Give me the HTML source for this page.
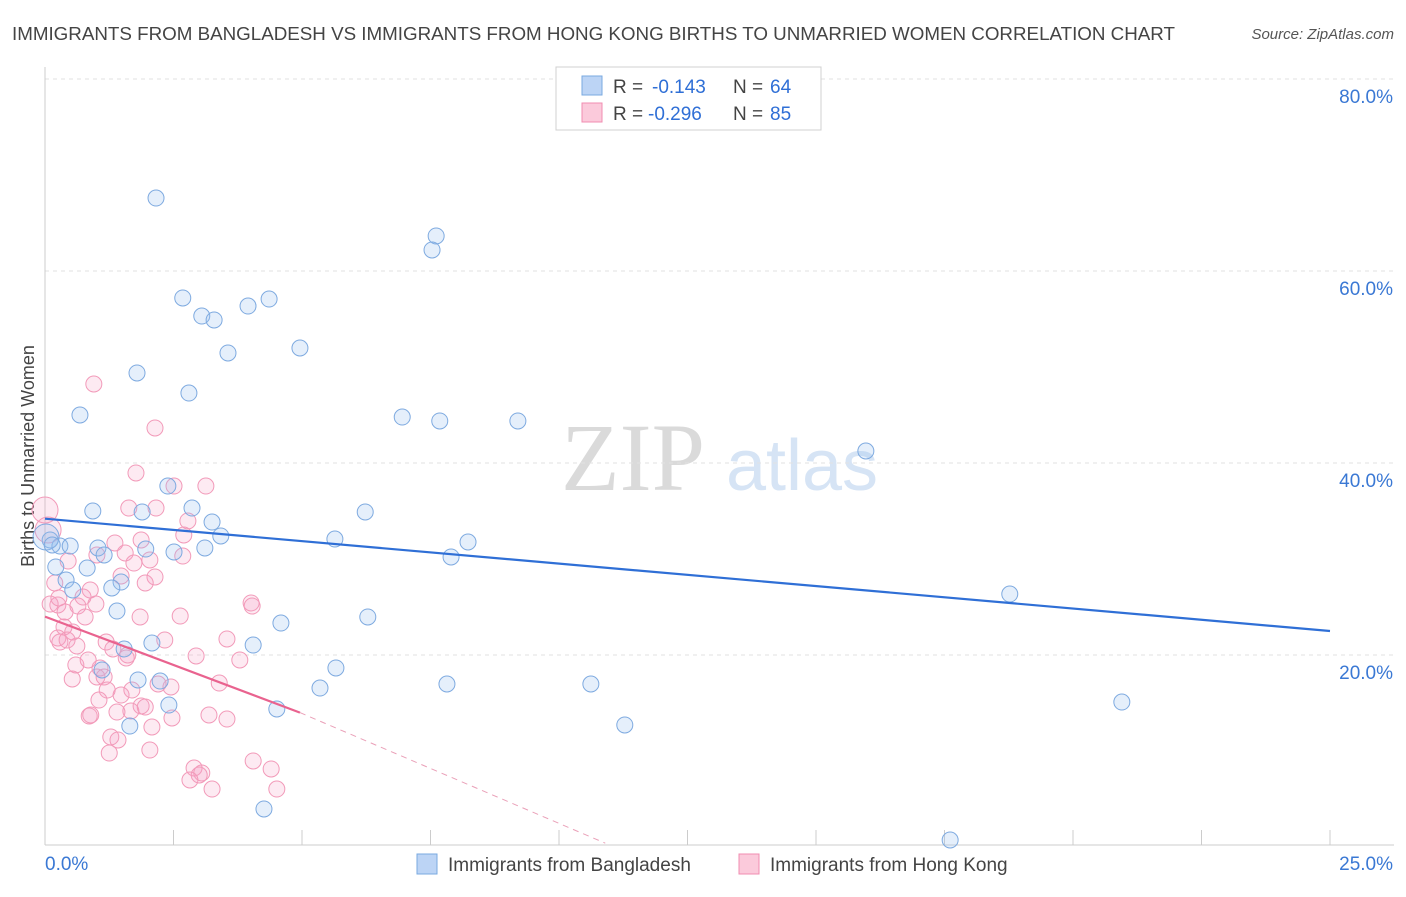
<!DOCTYPE html>
<html><head><meta charset="utf-8"><style>
body{margin:0;background:#fff;font-family:"Liberation Sans",sans-serif;}
</style></head><body>
<svg id="chart" width="1406" height="892" xmlns="http://www.w3.org/2000/svg" font-family="Liberation Sans, sans-serif">
<text x="12" y="40" font-size="18.8" fill="#444" textLength="1163">IMMIGRANTS FROM BANGLADESH VS IMMIGRANTS FROM HONG KONG BIRTHS TO UNMARRIED WOMEN CORRELATION CHART</text>
<text x="1394" y="39" font-size="15" fill="#555" font-style="italic" text-anchor="end">Source: ZipAtlas.com</text>
<text transform="translate(34,456) rotate(-90)" font-size="18" fill="#444" text-anchor="middle">Births to Unmarried Women</text>
<g><text x="633" y="490" font-size="96" fill="#dadada" font-family="Liberation Serif, serif" text-anchor="middle">ZIP</text><text x="802" y="490" font-size="72" fill="#d6e4f5" text-anchor="middle">atlas</text></g>
<g id="grid"></g><g id="marks"></g>
<g>
<rect x="556" y="67" width="265" height="63" fill="#fff" stroke="#d0d0d0"/>
<rect x="582" y="76" width="20" height="19" fill="#bcd4f5" stroke="#7aaae0"/>
<rect x="582" y="103" width="20" height="19" fill="#fbcadb" stroke="#f08cb0"/>
<text x="613" y="93" font-size="19" fill="#444">R =</text><text x="652" y="93" font-size="19" fill="#2f6fd6">-0.143</text>
<text x="733" y="93" font-size="19" fill="#444">N =</text><text x="770" y="93" font-size="19" fill="#2f6fd6">64</text>
<text x="613" y="120" font-size="19" fill="#444">R =</text><text x="648" y="120" font-size="19" fill="#2f6fd6">-0.296</text>
<text x="733" y="120" font-size="19" fill="#444">N =</text><text x="770" y="120" font-size="19" fill="#2f6fd6">85</text>
</g>
<g>
<rect x="417" y="854" width="20" height="20" fill="#bcd4f5" stroke="#7aaae0"/>
<text x="448" y="871" font-size="19" fill="#444">Immigrants from Bangladesh</text>
<rect x="739" y="854" width="20" height="20" fill="#fbcadb" stroke="#f08cb0"/>
<text x="770" y="871" font-size="19" fill="#444">Immigrants from Hong Kong</text>
</g>
</svg>
<script>
const yTicks=[20,40,60,80];
const yTickLabels=["20.0%","40.0%","60.0%","80.0%"];
const xTicks=[0,2.5,5,7.5,10,12.5,15,17.5,20,22.5,25];
const xEndLabels=["0.0%","25.0%"];
const bluePx=[[156,198],[436,236],[432,250],[183,298],[269,299],[248,306],[202,316],[214,320],[228,353],[300,348],[137,373],[80,415],[189,393],[402,417],[440,421],[518,421],[866,451],[168,486],[93,511],[142,512],[192,508],[365,512],[212,522],[221,536],[335,539],[468,542],[451,557],[50,540],[60,546],[70,546],[98,548],[104,555],[146,549],[174,552],[205,548],[87,568],[56,567],[66,580],[121,582],[73,590],[112,588],[117,611],[281,623],[368,617],[152,643],[253,645],[124,649],[102,670],[336,668],[138,680],[160,681],[447,684],[591,684],[320,688],[169,705],[277,709],[1122,702],[130,726],[625,725],[1010,594],[264,809],[950,840],[46,537],[52,545]];
const pinkPx=[[94,384],[155,428],[136,473],[174,486],[206,486],[129,508],[156,508],[188,521],[184,535],[141,540],[115,543],[125,553],[97,555],[134,563],[183,556],[68,561],[45,510],[48,530],[55,583],[90,590],[155,577],[145,583],[121,576],[50,604],[58,605],[65,612],[78,606],[96,604],[85,617],[64,627],[73,632],[58,638],[60,642],[67,640],[106,642],[77,646],[113,649],[128,655],[196,656],[227,639],[251,603],[252,606],[180,616],[76,665],[100,668],[72,679],[97,677],[104,677],[126,658],[219,683],[171,687],[158,684],[121,695],[107,690],[141,706],[145,707],[131,711],[117,712],[89,716],[91,715],[172,718],[209,715],[227,719],[152,727],[111,737],[118,740],[150,750],[109,753],[194,768],[202,773],[199,775],[253,761],[271,769],[212,789],[277,789],[59,598],[83,597],[140,617],[150,560],[165,640],[99,700],[132,690],[190,780],[240,660],[88,660]];
const blueX=bluePx.map(p=>+((p[0]-45)/1285*25).toFixed(2));
const blueY=bluePx.map(p=>+((847-p[1])/192*20).toFixed(2));
const pinkX=pinkPx.map(p=>+((p[0]-45)/1285*25).toFixed(2));
const pinkY=pinkPx.map(p=>+((847-p[1])/192*20).toFixed(2));
const blueLine=[[0,34.2],[25,22.5]];
const pinkLine=[[0,24.0],[4.96,14.0]];
const pinkDash=[[4.96,14.0],[10.9,0.4]];
const X=v=>45+v/25*1285, Y=v=>847-v/20*192;
const NS="http://www.w3.org/2000/svg";
const g=document.getElementById('grid'),m=document.getElementById('marks');
function el(t,a,p){const e=document.createElementNS(NS,t);for(const k in a)e.setAttribute(k,a[k]);p.appendChild(e);return e;}
yTicks.forEach((t,i)=>{
 const l=el('line',{x1:45,x2:1394,y1:Y(t),y2:Y(t),stroke:'#e2e2e2','stroke-dasharray':'4,4'},g);
 
 
 const tx=el('text',{x:1393,y:Y(t)+24,'font-size':19,fill:'#3a78d4','text-anchor':'end'},g);tx.textContent=yTickLabels[i];
 
 
});
const ax=el('line',{x1:45,x2:1394,y1:845,y2:845,stroke:'#ccc'},g);


const ay=el('line',{x1:45,x2:45,y1:67,y2:845,stroke:'#ccc'},g);


xTicks.forEach(t=>{const l=el('line',{x1:X(t),x2:X(t),y1:830,y2:845,stroke:'#ccc'},g);
 
 });
[[0,'start'],[25,'end']].forEach((v,i)=>{const tx=el('text',{x:i?1393:45,y:870,'font-size':19,fill:'#3a78d4','text-anchor':v[1]},g);tx.textContent=xEndLabels[i];
 
 });
function pts(xs,ys,fill,stroke,name){xs.forEach((x,i)=>{const big=(x<0.2&&ys[i]>32);
 const c=el('circle',{cx:X(x),cy:Y(ys[i]),r:big?13:8,fill:fill,stroke:stroke,'stroke-width':1},m);
 
 });}
pts(pinkX,pinkY,'rgba(245,160,195,0.22)','#f29ab9','hong-kong-point');
pts(blueX,blueY,'rgba(150,190,240,0.25)','#7eaae0','bangladesh-point');
function ln(d,c,w,dash,name){const l=el('line',{x1:X(d[0][0]),y1:Y(d[0][1]),x2:X(d[1][0]),y2:Y(d[1][1]),stroke:c,'stroke-width':w},m);if(dash)l.setAttribute('stroke-dasharray',dash);
 
 }
ln(blueLine,'#2f6fd6',2.2,null,'bangladesh-trend-line');
ln(pinkLine,'#e9638f',2.2,null,'hong-kong-trend-line');
ln(pinkDash,'#eaa0b8',1,'6,5','hong-kong-trend-extension');
</script>
</body></html>
